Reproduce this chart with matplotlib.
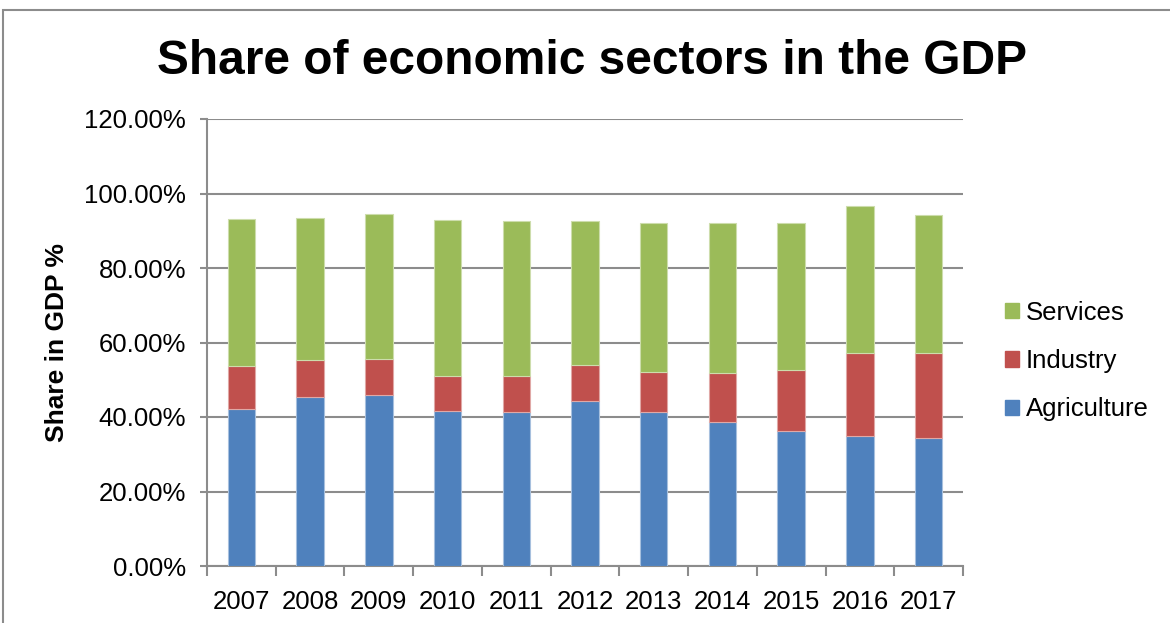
import numpy as np
import matplotlib.pyplot as plt
from matplotlib.patches import Rectangle, Patch
from matplotlib.ticker import FuncFormatter

plt.rcParams['font.family'] = ['Liberation Sans', 'DejaVu Sans']

years = ['2007', '2008', '2009', '2010', '2011', '2012', '2013', '2014', '2015', '2016', '2017']
agriculture = [42.2, 45.3, 45.8, 41.5, 41.3, 44.4, 41.3, 38.6, 36.2, 34.9, 34.3]
industry = [11.6, 10.1, 9.8, 9.4, 9.7, 9.5, 10.9, 13.3, 16.3, 22.2, 22.8]
services = [39.4, 38.0, 38.9, 41.9, 41.5, 38.6, 40.0, 40.1, 39.5, 39.5, 37.1]

blue = '#4F81BD'
red = '#C0504D'
green = '#9BBB59'
grid_col = '#8C8C8C'

fig = plt.figure(figsize=(11.7, 6.23), dpi=100)
ax = fig.add_axes([207 / 1170, 1 - 566 / 623, 756 / 1170, 447 / 623])

# outer chart frame
fig.patches.append(Rectangle((3 / 1170, -0.05), 1.2, 1 - 10 / 623 + 0.05,
                             transform=fig.transFigure, fill=False,
                             edgecolor='#8C8C8C', linewidth=1.5))

x = np.arange(len(years))
w = 0.4
agri = np.array(agriculture)
ind = np.array(industry)
serv = np.array(services)

ax.bar(x, agri, w, color=blue, edgecolor='#A7C0DE', linewidth=0.8, zorder=3)
ax.bar(x, ind, w, bottom=agri, color=red, edgecolor='#E0A8A6', linewidth=0.8, zorder=3)
ax.bar(x, serv, w, bottom=agri + ind, color=green, edgecolor='#CDDDAC', linewidth=0.8, zorder=3)

ax.set_xlim(-0.5, len(years) - 0.5)
ax.set_ylim(0, 120)
ax.set_yticks(np.arange(0, 121, 20))
ax.yaxis.set_major_formatter(FuncFormatter(lambda v, p: '%.2f%%' % v))
ax.yaxis.grid(True, color=grid_col, linewidth=1.5, zorder=0)
ax.set_axisbelow(True)

ax.set_xticks(x)
ax.set_xticklabels(years, fontsize=18.5)
ax.set_xticks(np.arange(-0.5, len(years), 1), minor=True)
ax.tick_params(axis='x', which='major', length=0, pad=17)
ax.tick_params(axis='x', which='minor', length=7, width=1.5, color=grid_col)
ax.tick_params(axis='y', length=5, width=1.5, color=grid_col, labelsize=18.5, pad=10)

for s in ['top', 'right']:
    ax.spines[s].set_visible(False)
for s in ['left', 'bottom']:
    ax.spines[s].set_color(grid_col)
    ax.spines[s].set_linewidth(1.5)

fig.text(57 / 1170, 1 - 343 / 623, 'Share in GDP %', rotation=90,
         ha='center', va='center', fontsize=19, fontweight='bold')

fig.text(0.506, 1 - 62 / 623, 'Share of economic sectors in the GDP',
         ha='center', va='center', fontsize=34.5, fontweight='bold')

handles = [Patch(color=green), Patch(color=red), Patch(color=blue)]
fig.legend(handles, ['Services', 'Industry', 'Agriculture'],
           loc='center left', bbox_to_anchor=(995 / 1170, 1 - 361 / 623),
           frameon=False, fontsize=18.5, handlelength=0.54, handleheight=0.54,
           handletextpad=0.25, labelspacing=0.95, borderaxespad=0)

fig.savefig('out.png', dpi=100)
